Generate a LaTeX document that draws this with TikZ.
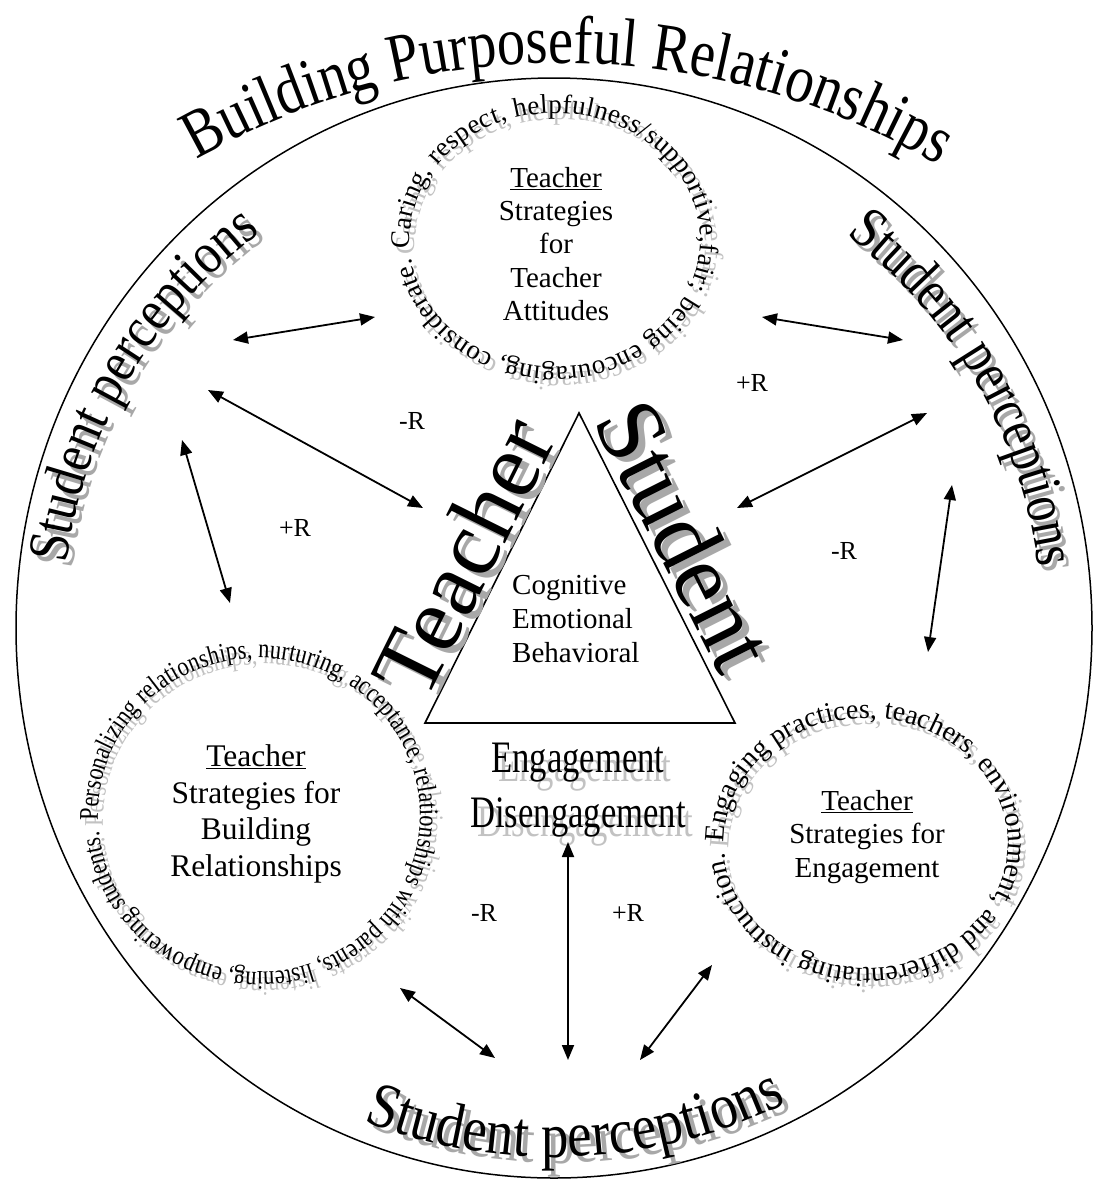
\documentclass[tikz,border=0pt]{standalone}
\usepackage{fontspec}
\usepackage{graphicx}
\setmainfont{Liberation Serif}
\newfontfamily\titlefam[FakeStretch=0.83]{Liberation Serif}
\newfontfamily\percfam[FakeStretch=0.86]{Liberation Serif}
\newfontfamily\ringBfam[FakeStretch=0.83]{Liberation Serif}
\usetikzlibrary{decorations.text,arrows.meta,shapes.geometric}
\newcommand\fsz[2]{\fontsize{#1}{#2}\selectfont}
\newcommand\ftitle{\titlefam\fsz{68}{70}}
\newcommand\fperc{\percfam\fsz{58}{62}}
\newcommand\fpercb{\percfam\fsz{64}{66}}
\newcommand\fringA{\fsz{27}{30}}
\newcommand\fringB{\ringBfam\fsz{27}{30}}
\newcommand\fringC{\fsz{28}{31}}
\definecolor{shadowA}{gray}{0.66}
\definecolor{shadowB}{gray}{0.76}
\tikzset{
  bidir/.style={{Triangle[length=15pt,width=12pt]}-{Triangle[length=15pt,width=12pt]}, line width=1.8pt},
  lbl/.style={font=\fsz{26}{30}, inner sep=0pt},
  innertext/.style={align=center, inner sep=0pt},
  bigword/.style={font=\fsz{94}{96}, inner sep=0pt, anchor=base},
  alongtext/.style={decorate, decoration={text along path, text={#1}, text align=center}},
  ringtext/.style={decorate, decoration={text along path, text={#1}, text align={fit to path}}},
}
\begin{document}
\begin{tikzpicture}[x=1pt,y=-1pt]
\useasboundingbox (0,0) rectangle (1093,1179);
\fill[white] (0,0) rectangle (1093,1179);

% outer circle
\node[draw, line width=1.5pt, ellipse, minimum width=1076pt, minimum height=1100pt, inner sep=0pt] (outer) at (554,628) {};

% title
\path[alongtext={|\ftitle|Building Purposeful Relationships}] ([shift={(562,805)}]225:742) arc[start angle=225, end angle=316, radius=742];

% student perceptions (left, right, bottom)
\path[shift={(6,6)}, alongtext={|\fperc\color{shadowA}|Student perceptions}] ([shift={(554,628)}]180:492) arc[start angle=180, end angle=241, radius=492];
\path[alongtext={|\fperc|Student perceptions}] ([shift={(554,628)}]180:492) arc[start angle=180, end angle=241, radius=492];
\path[shift={(5,6)}, alongtext={|\fperc\color{shadowA}|Student perceptions}] ([shift={(550,628)}]299:492) arc[start angle=299, end angle=361, radius=492];
\path[alongtext={|\fperc|Student perceptions}] ([shift={(550,628)}]299:492) arc[start angle=299, end angle=361, radius=492];
\path[shift={(6,6)}, alongtext={|\fpercb\color{shadowA}|Student perceptions}] ([shift={(554,628)}]115:529) arc[start angle=115, end angle=60, radius=529];
\path[alongtext={|\fpercb|Student perceptions}] ([shift={(554,628)}]115:529) arc[start angle=115, end angle=60, radius=529];

% top ring
\path[shift={(5,6)}, ringtext={|\fringA\color{shadowB}|Caring, respect, helpfulness/supportive,fair; being encouraging, considerate.}] ([shift={(555,240)}]176:145 and 127) arc[start angle=176, end angle=532, x radius=145, y radius=127];
\path[ringtext={|\fringA|Caring, respect, helpfulness/supportive,fair; being encouraging, considerate.}] ([shift={(555,240)}]176:145 and 127) arc[start angle=176, end angle=532, x radius=145, y radius=127];
\node[innertext, font=\fsz{29}{33.3}] (ringA) at (556,244) {\underline{Teacher}\\Strategies\\for\\Teacher\\Attitudes};

% bottom-left ring
\path[shift={(5,6)}, ringtext={|\fringB\color{shadowB}|Personalizing relationships, nurturing, acceptance, relationships with parents, listening, empowering students.}] ([shift={(259,815)}]178:161 and 157) arc[start angle=178, end angle=534, x radius=161, y radius=157];
\path[ringtext={|\fringB|Personalizing relationships, nurturing, acceptance, relationships with parents, listening, empowering students.}] ([shift={(259,815)}]178:161 and 157) arc[start angle=178, end angle=534, x radius=161, y radius=157];
\node[innertext, font=\fsz{31.5}{36.7}] (ringB) at (256,814) {\underline{Teacher}\\Strategies for\\Building\\Relationships};

% bottom-right ring
\path[shift={(5,6)}, ringtext={|\fringC\color{shadowB}|Engaging practices, teachers, environment, and differentiating instruction.}] ([shift={(866,843)}]180:142 and 125) arc[start angle=180, end angle=535, x radius=142, y radius=125];
\path[ringtext={|\fringC|Engaging practices, teachers, environment, and differentiating instruction.}] ([shift={(866,843)}]180:142 and 125) arc[start angle=180, end angle=535, x radius=142, y radius=125];
\node[innertext, font=\fsz{29}{33.5}] (ringC) at (867,837) {\underline{Teacher}\\Strategies for\\Engagement};

% triangle
\coordinate (apex) at (579,413);
\coordinate (bl) at (425,723);
\coordinate (br) at (735,723);
\draw[line width=1.6pt] (apex) -- (br) -- (bl) -- cycle;
\node[align=left, anchor=north west, inner sep=0pt, font=\fsz{29}{34}] (cog) at (512,575) {Cognitive\\Emotional\\Behavioral};

\node[bigword, text=shadowA, rotate=63.6] (teachsh) at (498.7,575.7) {Teacher};
\node[bigword, rotate=63.6] (teach) at (491.7,570.7) {Teacher};
\node[bigword, text=shadowA, rotate=-63.3] (studsh) at (663.8,554.6) {Student};
\node[bigword, rotate=-63.3] (stud) at (656.8,549.6) {Student};

% engagement
\node[innertext, font=\fsz{45}{55}, text=shadowB] (engsh) at (585,799) {\scalebox{0.77}[1]{Engagement}\\\scalebox{0.77}[1]{Disengagement}};
\node[innertext, font=\fsz{45}{55}] (eng) at (578,790.5) {\scalebox{0.77}[1]{Engagement}\\\scalebox{0.77}[1]{Disengagement}};

% labels
\node[lbl] (r1) at (412,421) {-R};
\node[lbl] (r2) at (752,383) {+R};
\node[lbl] (r3) at (295,528) {+R};
\node[lbl] (r4) at (844,551) {-R};
\node[lbl] (r5) at (484,913) {-R};
\node[lbl] (r6) at (628,913) {+R};

% arrow end points
\coordinate (a1s) at (233,340); \coordinate (a1e) at (375,317);
\coordinate (a2s) at (762,317); \coordinate (a2e) at (903,340);
\coordinate (a3s) at (208,390); \coordinate (a3e) at (423,508);
\coordinate (a4s) at (737,508); \coordinate (a4e) at (927,413);
\coordinate (a5s) at (182,440); \coordinate (a5e) at (230,603);
\coordinate (a6s) at (952,485); \coordinate (a6e) at (928,652);
\coordinate (a7s) at (568,842); \coordinate (a7e) at (568,1060);
\coordinate (a8s) at (400,988); \coordinate (a8e) at (495,1058);
\coordinate (a9s) at (712,965); \coordinate (a9e) at (640,1060);
\foreach \i in {1,...,9} {\draw[bidir] (a\i s) -- (a\i e);}
\end{tikzpicture}
\end{document}
